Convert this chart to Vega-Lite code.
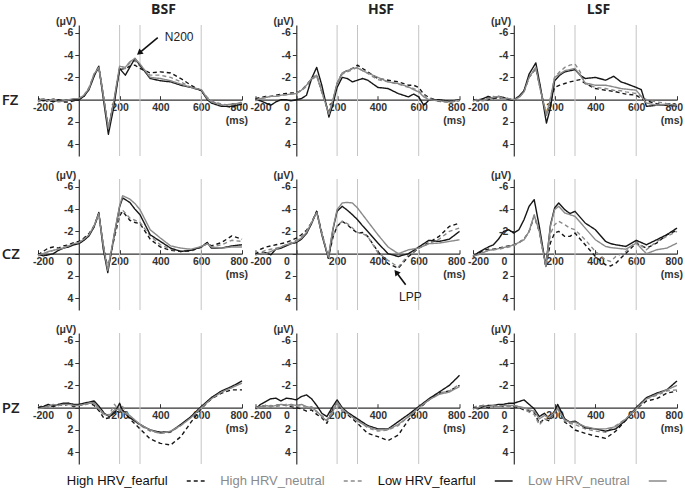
{
  "$schema": "https://vega.github.io/schema/vega-lite/v6.json",
  "padding": {"left": 1, "top": 2, "right": 2, "bottom": 2},
  "background": "white",
  "config": {
    "view": {"stroke": null},
    "font": "Liberation Sans",
    "axisX": {"offset": -56.3, "tickCount": 5, "labelExpr": "datum.value == 800 ? ['800', '(ms)'] : '' + datum.value",
      "ticks": true, "tickSize": -4, "tickColor": "#333", "labelPadding": 7, "grid": false, "domainColor": "#333", "domainWidth": 1.2,
      "labelFlush": true, "labelFlushOffset": 5.5, "labelOverlap": false, "labelBound": false, "labelFontSize": 10.5, "labelFontWeight": "bold", "labelColor": "#333"},
    "axisY": {"offset": -40.8, "tickCount": 6, "labelExpr": "datum.value == 0 ? '' : '' + datum.value", "ticks": true, "tickSize": 4, "tickColor": "#333",
      "labelPadding": 2, "grid": false, "domainColor": "#333", "domainWidth": 1.2, "labelOverlap": false, "labelBound": false,
      "labelFontSize": 10.5, "labelFontWeight": "bold", "labelColor": "#333"}
  },
  "data": {"values": [
{"e":"FZ","c":"BSF","t":-200,"HF":0.1,"HN":0.2,"LF":-0.1,"LN":0.1},
{"e":"FZ","c":"BSF","t":-175,"HF":-0.1,"HN":0.0,"LF":0.1,"LN":-0.1},
{"e":"FZ","c":"BSF","t":-150,"HF":0.2,"HN":0.1,"LF":0.0,"LN":0.1},
{"e":"FZ","c":"BSF","t":-125,"HF":0.0,"HN":-0.1,"LF":0.2,"LN":0.0},
{"e":"FZ","c":"BSF","t":-100,"HF":0.1,"HN":0.1,"LF":0.0,"LN":0.2},
{"e":"FZ","c":"BSF","t":-75,"HF":0.2,"HN":0.0,"LF":0.1,"LN":0.1},
{"e":"FZ","c":"BSF","t":-50,"HF":0.2,"HN":0.1,"LF":0.0,"LN":0.0},
{"e":"FZ","c":"BSF","t":-25,"HF":0.1,"HN":0.0,"LF":0.0,"LN":-0.1},
{"e":"FZ","c":"BSF","t":0,"HF":0.0,"HN":-0.1,"LF":0.0,"LN":-0.1},
{"e":"FZ","c":"BSF","t":25,"HF":-0.3,"HN":-0.4,"LF":-0.3,"LN":-0.4},
{"e":"FZ","c":"BSF","t":50,"HF":-1.0,"HN":-1.1,"LF":-0.9,"LN":-1.0},
{"e":"FZ","c":"BSF","t":75,"HF":-2.2,"HN":-2.3,"LF":-2.1,"LN":-2.3},
{"e":"FZ","c":"BSF","t":98,"HF":-2.9,"HN":-3.0,"LF":-3.0,"LN":-2.9},
{"e":"FZ","c":"BSF","t":120,"HF":-0.4,"HN":-0.5,"LF":-0.1,"LN":-0.4},
{"e":"FZ","c":"BSF","t":145,"HF":2.5,"HN":2.6,"LF":3.1,"LN":2.6},
{"e":"FZ","c":"BSF","t":170,"HF":0.3,"HN":0.4,"LF":0.8,"LN":0.3},
{"e":"FZ","c":"BSF","t":200,"HF":-2.7,"HN":-2.9,"LF":-2.8,"LN":-3.0},
{"e":"FZ","c":"BSF","t":228,"HF":-2.8,"HN":-2.8,"LF":-2.2,"LN":-2.9},
{"e":"FZ","c":"BSF","t":250,"HF":-3.0,"HN":-3.3,"LF":-2.9,"LN":-3.4},
{"e":"FZ","c":"BSF","t":275,"HF":-3.1,"HN":-3.5,"LF":-3.7,"LN":-3.7},
{"e":"FZ","c":"BSF","t":300,"HF":-2.8,"HN":-3.0,"LF":-3.1,"LN":-3.2},
{"e":"FZ","c":"BSF","t":325,"HF":-2.6,"HN":-2.6,"LF":-2.5,"LN":-2.6},
{"e":"FZ","c":"BSF","t":350,"HF":-2.4,"HN":-2.2,"LF":-1.9,"LN":-2.0},
{"e":"FZ","c":"BSF","t":400,"HF":-2.5,"HN":-2.2,"LF":-1.7,"LN":-1.9},
{"e":"FZ","c":"BSF","t":450,"HF":-2.4,"HN":-2.0,"LF":-1.6,"LN":-1.7},
{"e":"FZ","c":"BSF","t":500,"HF":-1.9,"HN":-1.6,"LF":-1.3,"LN":-1.4},
{"e":"FZ","c":"BSF","t":550,"HF":-1.3,"HN":-1.1,"LF":-1.1,"LN":-1.1},
{"e":"FZ","c":"BSF","t":600,"HF":-0.8,"HN":-0.9,"LF":-0.85,"LN":-0.9},
{"e":"FZ","c":"BSF","t":630,"HF":-0.1,"HN":-0.2,"LF":0.0,"LN":-0.1},
{"e":"FZ","c":"BSF","t":650,"HF":0.2,"HN":0.1,"LF":0.3,"LN":0.2},
{"e":"FZ","c":"BSF","t":700,"HF":0.5,"HN":0.4,"LF":0.6,"LN":0.5},
{"e":"FZ","c":"BSF","t":750,"HF":0.7,"HN":0.5,"LF":0.6,"LN":0.4},
{"e":"FZ","c":"BSF","t":800,"HF":0.3,"HN":0.2,"LF":0.4,"LN":0.3},

{"e":"FZ","c":"HSF","t":-200,"HF":-0.1,"HN":0.0,"LF":0.0,"LN":0.1},
{"e":"FZ","c":"HSF","t":-175,"HF":-0.2,"HN":-0.1,"LF":0.1,"LN":-0.1},
{"e":"FZ","c":"HSF","t":-150,"HF":-0.3,"HN":-0.2,"LF":0.3,"LN":-0.2},
{"e":"FZ","c":"HSF","t":-125,"HF":-0.3,"HN":-0.3,"LF":0.5,"LN":-0.3},
{"e":"FZ","c":"HSF","t":-100,"HF":-0.4,"HN":-0.3,"LF":0.2,"LN":-0.3},
{"e":"FZ","c":"HSF","t":-75,"HF":-0.5,"HN":-0.4,"LF":0.0,"LN":-0.4},
{"e":"FZ","c":"HSF","t":-50,"HF":-0.55,"HN":-0.45,"LF":0.0,"LN":-0.45},
{"e":"FZ","c":"HSF","t":-25,"HF":-0.6,"HN":-0.5,"LF":0.1,"LN":-0.5},
{"e":"FZ","c":"HSF","t":0,"HF":-0.6,"HN":-0.6,"LF":0.0,"LN":-0.55},
{"e":"FZ","c":"HSF","t":25,"HF":-0.85,"HN":-0.8,"LF":-0.1,"LN":-0.85},
{"e":"FZ","c":"HSF","t":50,"HF":-1.3,"HN":-1.2,"LF":-0.4,"LN":-1.3},
{"e":"FZ","c":"HSF","t":75,"HF":-1.9,"HN":-1.8,"LF":-1.9,"LN":-1.9},
{"e":"FZ","c":"HSF","t":100,"HF":-2.2,"HN":-2.1,"LF":-2.9,"LN":-2.2},
{"e":"FZ","c":"HSF","t":125,"HF":-0.7,"HN":-0.8,"LF":-1.3,"LN":-0.7},
{"e":"FZ","c":"HSF","t":160,"HF":1.25,"HN":1.2,"LF":1.55,"LN":1.3},
{"e":"FZ","c":"HSF","t":180,"HF":0.1,"HN":0.0,"LF":0.35,"LN":0.0},
{"e":"FZ","c":"HSF","t":200,"HF":-1.45,"HN":-1.4,"LF":-1.1,"LN":-1.5},
{"e":"FZ","c":"HSF","t":225,"HF":-2.4,"HN":-2.3,"LF":-2.0,"LN":-2.4},
{"e":"FZ","c":"HSF","t":250,"HF":-2.6,"HN":-2.5,"LF":-1.9,"LN":-2.6},
{"e":"FZ","c":"HSF","t":275,"HF":-2.8,"HN":-2.7,"LF":-1.6,"LN":-2.8},
{"e":"FZ","c":"HSF","t":300,"HF":-3.1,"HN":-2.9,"LF":-1.75,"LN":-2.85},
{"e":"FZ","c":"HSF","t":325,"HF":-2.8,"HN":-2.6,"LF":-1.9,"LN":-2.6},
{"e":"FZ","c":"HSF","t":350,"HF":-2.5,"HN":-2.35,"LF":-1.75,"LN":-2.4},
{"e":"FZ","c":"HSF","t":400,"HF":-1.9,"HN":-1.8,"LF":-1.1,"LN":-2.0},
{"e":"FZ","c":"HSF","t":450,"HF":-1.75,"HN":-1.6,"LF":-1.0,"LN":-1.6},
{"e":"FZ","c":"HSF","t":500,"HF":-1.6,"HN":-1.4,"LF":-0.55,"LN":-1.45},
{"e":"FZ","c":"HSF","t":550,"HF":-1.3,"HN":-1.1,"LF":-0.25,"LN":-1.15},
{"e":"FZ","c":"HSF","t":575,"HF":-1.3,"HN":-1.0,"LF":-0.5,"LN":-0.9},
{"e":"FZ","c":"HSF","t":600,"HF":-1.1,"HN":-0.8,"LF":-0.25,"LN":-0.7},
{"e":"FZ","c":"HSF","t":625,"HF":-0.5,"HN":-0.4,"LF":0.5,"LN":-0.25},
{"e":"FZ","c":"HSF","t":650,"HF":-0.2,"HN":-0.1,"LF":0.05,"LN":0.0},
{"e":"FZ","c":"HSF","t":700,"HF":0.15,"HN":0.1,"LF":0.0,"LN":0.1},
{"e":"FZ","c":"HSF","t":750,"HF":0.2,"HN":0.25,"LF":0.15,"LN":0.2},
{"e":"FZ","c":"HSF","t":800,"HF":0.05,"HN":0.1,"LF":0.0,"LN":0.05},

{"e":"FZ","c":"LSF","t":-200,"HF":0.0,"HN":0.1,"LF":0.0,"LN":0.1},
{"e":"FZ","c":"LSF","t":-175,"HF":0.1,"HN":-0.1,"LF":0.1,"LN":0.0},
{"e":"FZ","c":"LSF","t":-150,"HF":-0.1,"HN":0.0,"LF":-0.1,"LN":0.1},
{"e":"FZ","c":"LSF","t":-125,"HF":0.0,"HN":-0.2,"LF":-0.3,"LN":-0.1},
{"e":"FZ","c":"LSF","t":-100,"HF":-0.2,"HN":-0.3,"LF":-0.1,"LN":-0.2},
{"e":"FZ","c":"LSF","t":-75,"HF":-0.1,"HN":-0.2,"LF":-0.3,"LN":-0.3},
{"e":"FZ","c":"LSF","t":-50,"HF":-0.2,"HN":-0.1,"LF":-0.2,"LN":-0.1},
{"e":"FZ","c":"LSF","t":-25,"HF":-0.1,"HN":0.0,"LF":0.0,"LN":-0.1},
{"e":"FZ","c":"LSF","t":0,"HF":0.0,"HN":0.0,"LF":0.0,"LN":0.0},
{"e":"FZ","c":"LSF","t":25,"HF":-0.2,"HN":-0.2,"LF":-0.3,"LN":-0.2},
{"e":"FZ","c":"LSF","t":50,"HF":-0.8,"HN":-0.7,"LF":-0.8,"LN":-0.7},
{"e":"FZ","c":"LSF","t":75,"HF":-2.0,"HN":-2.0,"LF":-2.3,"LN":-2.0},
{"e":"FZ","c":"LSF","t":108,"HF":-2.8,"HN":-2.9,"LF":-3.3,"LN":-2.9},
{"e":"FZ","c":"LSF","t":130,"HF":-1.0,"HN":-1.0,"LF":-1.2,"LN":-0.9},
{"e":"FZ","c":"LSF","t":160,"HF":1.4,"HN":1.4,"LF":2.1,"LN":1.4},
{"e":"FZ","c":"LSF","t":180,"HF":0.2,"HN":-0.2,"LF":0.7,"LN":-0.1},
{"e":"FZ","c":"LSF","t":200,"HF":-1.1,"HN":-2.0,"LF":-1.7,"LN":-2.0},
{"e":"FZ","c":"LSF","t":225,"HF":-1.3,"HN":-2.5,"LF":-2.2,"LN":-2.3},
{"e":"FZ","c":"LSF","t":250,"HF":-1.45,"HN":-2.9,"LF":-2.5,"LN":-2.6},
{"e":"FZ","c":"LSF","t":275,"HF":-1.6,"HN":-3.1,"LF":-2.6,"LN":-2.7},
{"e":"FZ","c":"LSF","t":300,"HF":-1.7,"HN":-3.2,"LF":-2.7,"LN":-2.8},
{"e":"FZ","c":"LSF","t":325,"HF":-1.8,"HN":-2.5,"LF":-2.2,"LN":-2.2},
{"e":"FZ","c":"LSF","t":350,"HF":-1.45,"HN":-1.45,"LF":-1.9,"LN":-1.5},
{"e":"FZ","c":"LSF","t":400,"HF":-1.0,"HN":-1.1,"LF":-2.0,"LN":-1.3},
{"e":"FZ","c":"LSF","t":450,"HF":-0.85,"HN":-1.0,"LF":-1.75,"LN":-1.3},
{"e":"FZ","c":"LSF","t":490,"HF":-0.75,"HN":-0.85,"LF":-2.1,"LN":-1.15},
{"e":"FZ","c":"LSF","t":525,"HF":-0.6,"HN":-0.8,"LF":-1.6,"LN":-1.0},
{"e":"FZ","c":"LSF","t":550,"HF":-0.5,"HN":-0.7,"LF":-1.45,"LN":-0.95},
{"e":"FZ","c":"LSF","t":600,"HF":-0.4,"HN":-0.55,"LF":-1.1,"LN":-0.85},
{"e":"FZ","c":"LSF","t":625,"HF":-0.1,"HN":-0.3,"LF":-0.9,"LN":-0.3},
{"e":"FZ","c":"LSF","t":650,"HF":0.1,"HN":0.0,"LF":0.6,"LN":0.3},
{"e":"FZ","c":"LSF","t":700,"HF":0.35,"HN":0.2,"LF":0.5,"LN":0.5},
{"e":"FZ","c":"LSF","t":750,"HF":0.5,"HN":0.35,"LF":0.45,"LN":0.4},
{"e":"FZ","c":"LSF","t":800,"HF":0.6,"HN":0.65,"LF":0.55,"LN":0.5},

{"e":"CZ","c":"BSF","t":-200,"HF":0.1,"HN":0.2,"LF":0.0,"LN":0.1},
{"e":"CZ","c":"BSF","t":-175,"HF":-0.2,"HN":0.1,"LF":0.2,"LN":0.0},
{"e":"CZ","c":"BSF","t":-150,"HF":-0.5,"HN":-0.1,"LF":0.1,"LN":-0.2},
{"e":"CZ","c":"BSF","t":-125,"HF":-0.6,"HN":-0.3,"LF":0.0,"LN":-0.3},
{"e":"CZ","c":"BSF","t":-100,"HF":-0.5,"HN":-0.4,"LF":-0.3,"LN":-0.4},
{"e":"CZ","c":"BSF","t":-75,"HF":-0.7,"HN":-0.6,"LF":-0.5,"LN":-0.5},
{"e":"CZ","c":"BSF","t":-50,"HF":-0.8,"HN":-0.7,"LF":-0.6,"LN":-0.7},
{"e":"CZ","c":"BSF","t":-25,"HF":-1.0,"HN":-0.8,"LF":-0.8,"LN":-0.9},
{"e":"CZ","c":"BSF","t":0,"HF":-1.1,"HN":-0.9,"LF":-0.9,"LN":-1.0},
{"e":"CZ","c":"BSF","t":25,"HF":-1.4,"HN":-1.2,"LF":-1.2,"LN":-1.3},
{"e":"CZ","c":"BSF","t":50,"HF":-1.8,"HN":-1.7,"LF":-1.6,"LN":-1.7},
{"e":"CZ","c":"BSF","t":75,"HF":-2.5,"HN":-2.4,"LF":-2.4,"LN":-2.5},
{"e":"CZ","c":"BSF","t":98,"HF":-3.6,"HN":-3.5,"LF":-3.7,"LN":-3.6},
{"e":"CZ","c":"BSF","t":120,"HF":-0.8,"HN":-0.6,"LF":-0.4,"LN":-0.7},
{"e":"CZ","c":"BSF","t":142,"HF":1.3,"HN":1.4,"LF":1.7,"LN":1.5},
{"e":"CZ","c":"BSF","t":175,"HF":-1.5,"HN":-1.6,"LF":-1.8,"LN":-1.9},
{"e":"CZ","c":"BSF","t":200,"HF":-3.4,"HN":-3.6,"LF":-4.2,"LN":-4.3},
{"e":"CZ","c":"BSF","t":215,"HF":-3.8,"HN":-3.9,"LF":-5.0,"LN":-5.2},
{"e":"CZ","c":"BSF","t":250,"HF":-3.0,"HN":-3.2,"LF":-4.6,"LN":-4.9},
{"e":"CZ","c":"BSF","t":275,"HF":-2.8,"HN":-3.0,"LF":-4.0,"LN":-4.5},
{"e":"CZ","c":"BSF","t":300,"HF":-2.7,"HN":-2.8,"LF":-3.5,"LN":-3.95},
{"e":"CZ","c":"BSF","t":350,"HF":-1.3,"HN":-1.6,"LF":-1.7,"LN":-2.15},
{"e":"CZ","c":"BSF","t":400,"HF":-0.6,"HN":-0.8,"LF":-1.1,"LN":-1.4},
{"e":"CZ","c":"BSF","t":450,"HF":-0.3,"HN":-0.4,"LF":-0.5,"LN":-0.7},
{"e":"CZ","c":"BSF","t":500,"HF":-0.2,"HN":-0.25,"LF":-0.2,"LN":-0.5},
{"e":"CZ","c":"BSF","t":550,"HF":-0.25,"HN":-0.3,"LF":-0.3,"LN":-0.4},
{"e":"CZ","c":"BSF","t":600,"HF":-0.6,"HN":-0.55,"LF":-0.6,"LN":-0.65},
{"e":"CZ","c":"BSF","t":630,"HF":-1.0,"HN":-0.9,"LF":-1.0,"LN":-0.9},
{"e":"CZ","c":"BSF","t":650,"HF":-0.7,"HN":-0.6,"LF":-0.5,"LN":-0.6},
{"e":"CZ","c":"BSF","t":700,"HF":-1.0,"HN":-0.8,"LF":-0.5,"LN":-0.5},
{"e":"CZ","c":"BSF","t":750,"HF":-1.6,"HN":-1.2,"LF":-0.7,"LN":-0.6},
{"e":"CZ","c":"BSF","t":800,"HF":-1.3,"HN":-1.1,"LF":-0.8,"LN":-0.6},

{"e":"CZ","c":"HSF","t":-200,"HF":0.1,"HN":0.1,"LF":0.0,"LN":0.1},
{"e":"CZ","c":"HSF","t":-175,"HF":-0.4,"HN":-0.1,"LF":0.0,"LN":0.0},
{"e":"CZ","c":"HSF","t":-150,"HF":-0.6,"HN":-0.3,"LF":-0.1,"LN":0.0},
{"e":"CZ","c":"HSF","t":-125,"HF":-0.7,"HN":-0.4,"LF":0.1,"LN":-0.2},
{"e":"CZ","c":"HSF","t":-100,"HF":-0.8,"HN":-0.5,"LF":-0.4,"LN":-0.4},
{"e":"CZ","c":"HSF","t":-75,"HF":-0.9,"HN":-0.6,"LF":-0.5,"LN":-0.6},
{"e":"CZ","c":"HSF","t":-50,"HF":-1.0,"HN":-0.8,"LF":-0.7,"LN":-0.8},
{"e":"CZ","c":"HSF","t":-25,"HF":-1.2,"HN":-1.0,"LF":-0.9,"LN":-0.9},
{"e":"CZ","c":"HSF","t":0,"HF":-1.4,"HN":-1.2,"LF":-1.0,"LN":-1.1},
{"e":"CZ","c":"HSF","t":25,"HF":-1.7,"HN":-1.5,"LF":-1.3,"LN":-1.4},
{"e":"CZ","c":"HSF","t":50,"HF":-2.1,"HN":-2.0,"LF":-1.8,"LN":-1.9},
{"e":"CZ","c":"HSF","t":75,"HF":-2.8,"HN":-2.8,"LF":-2.7,"LN":-2.8},
{"e":"CZ","c":"HSF","t":100,"HF":-3.8,"HN":-3.7,"LF":-3.8,"LN":-3.7},
{"e":"CZ","c":"HSF","t":125,"HF":-1.9,"HN":-1.8,"LF":-1.7,"LN":-1.8},
{"e":"CZ","c":"HSF","t":157,"HF":0.4,"HN":0.3,"LF":0.4,"LN":0.3},
{"e":"CZ","c":"HSF","t":180,"HF":-1.5,"HN":-1.6,"LF":-2.2,"LN":-2.3},
{"e":"CZ","c":"HSF","t":200,"HF":-2.45,"HN":-2.5,"LF":-3.8,"LN":-3.95},
{"e":"CZ","c":"HSF","t":225,"HF":-2.9,"HN":-2.9,"LF":-4.25,"LN":-4.55},
{"e":"CZ","c":"HSF","t":250,"HF":-2.6,"HN":-2.7,"LF":-3.9,"LN":-4.6},
{"e":"CZ","c":"HSF","t":275,"HF":-2.2,"HN":-2.3,"LF":-3.5,"LN":-4.55},
{"e":"CZ","c":"HSF","t":300,"HF":-1.85,"HN":-1.9,"LF":-3.05,"LN":-4.1},
{"e":"CZ","c":"HSF","t":325,"HF":-1.9,"HN":-1.8,"LF":-2.5,"LN":-3.5},
{"e":"CZ","c":"HSF","t":350,"HF":-1.55,"HN":-1.55,"LF":-2.0,"LN":-2.9},
{"e":"CZ","c":"HSF","t":400,"HF":-0.2,"HN":-0.1,"LF":-0.95,"LN":-1.7},
{"e":"CZ","c":"HSF","t":450,"HF":0.9,"HN":0.6,"LF":0.0,"LN":-0.6},
{"e":"CZ","c":"HSF","t":500,"HF":1.3,"HN":1.2,"LF":0.25,"LN":0.0},
{"e":"CZ","c":"HSF","t":550,"HF":0.25,"HN":0.1,"LF":0.0,"LN":-0.35},
{"e":"CZ","c":"HSF","t":600,"HF":-0.5,"HN":-0.5,"LF":-0.6,"LN":-0.5},
{"e":"CZ","c":"HSF","t":650,"HF":-1.0,"HN":-0.9,"LF":-1.2,"LN":-0.9},
{"e":"CZ","c":"HSF","t":700,"HF":-1.55,"HN":-1.3,"LF":-1.1,"LN":-0.95},
{"e":"CZ","c":"HSF","t":750,"HF":-2.45,"HN":-2.0,"LF":-1.3,"LN":-1.1},
{"e":"CZ","c":"HSF","t":800,"HF":-2.75,"HN":-2.3,"LF":-2.0,"LN":-1.25},

{"e":"CZ","c":"LSF","t":-200,"HF":0.25,"HN":0.2,"LF":0.25,"LN":0.2},
{"e":"CZ","c":"LSF","t":-175,"HF":0.0,"HN":0.1,"LF":-0.1,"LN":0.1},
{"e":"CZ","c":"LSF","t":-150,"HF":-0.3,"HN":-0.1,"LF":-0.35,"LN":-0.1},
{"e":"CZ","c":"LSF","t":-125,"HF":-0.4,"HN":-0.3,"LF":-0.6,"LN":-0.3},
{"e":"CZ","c":"LSF","t":-100,"HF":-0.4,"HN":-0.35,"LF":-0.8,"LN":-0.35},
{"e":"CZ","c":"LSF","t":-75,"HF":-0.5,"HN":-0.4,"LF":-1.3,"LN":-0.45},
{"e":"CZ","c":"LSF","t":-50,"HF":-0.6,"HN":-0.5,"LF":-2.0,"LN":-0.55},
{"e":"CZ","c":"LSF","t":-25,"HF":-0.7,"HN":-0.6,"LF":-2.15,"LN":-0.65},
{"e":"CZ","c":"LSF","t":0,"HF":-0.8,"HN":-0.7,"LF":-1.85,"LN":-0.8},
{"e":"CZ","c":"LSF","t":25,"HF":-1.0,"HN":-1.0,"LF":-2.15,"LN":-1.0},
{"e":"CZ","c":"LSF","t":50,"HF":-1.3,"HN":-1.3,"LF":-3.05,"LN":-1.25},
{"e":"CZ","c":"LSF","t":75,"HF":-2.0,"HN":-2.0,"LF":-4.25,"LN":-2.0},
{"e":"CZ","c":"LSF","t":100,"HF":-3.35,"HN":-3.4,"LF":-4.85,"LN":-3.5},
{"e":"CZ","c":"LSF","t":125,"HF":-2.0,"HN":-2.0,"LF":-2.45,"LN":-2.0},
{"e":"CZ","c":"LSF","t":157,"HF":1.15,"HN":1.2,"LF":1.1,"LN":1.15},
{"e":"CZ","c":"LSF","t":180,"HF":-1.0,"HN":-1.8,"LF":-2.6,"LN":-2.5},
{"e":"CZ","c":"LSF","t":200,"HF":-1.85,"HN":-2.6,"LF":-4.1,"LN":-3.95},
{"e":"CZ","c":"LSF","t":220,"HF":-2.0,"HN":-2.9,"LF":-4.55,"LN":-4.25},
{"e":"CZ","c":"LSF","t":250,"HF":-1.55,"HN":-2.6,"LF":-3.95,"LN":-3.65},
{"e":"CZ","c":"LSF","t":275,"HF":-1.55,"HN":-2.3,"LF":-3.6,"LN":-3.5},
{"e":"CZ","c":"LSF","t":300,"HF":-1.85,"HN":-2.15,"LF":-3.8,"LN":-3.35},
{"e":"CZ","c":"LSF","t":350,"HF":-0.8,"HN":-1.25,"LF":-2.75,"LN":-2.3},
{"e":"CZ","c":"LSF","t":400,"HF":0.25,"HN":-0.2,"LF":-2.15,"LN":-1.25},
{"e":"CZ","c":"LSF","t":450,"HF":1.0,"HN":0.55,"LF":-1.1,"LN":-0.65},
{"e":"CZ","c":"LSF","t":475,"HF":1.1,"HN":0.7,"LF":-0.9,"LN":-0.55},
{"e":"CZ","c":"LSF","t":500,"HF":0.85,"HN":0.25,"LF":-0.8,"LN":-0.5},
{"e":"CZ","c":"LSF","t":550,"HF":-0.05,"HN":-0.2,"LF":-0.65,"LN":-0.4},
{"e":"CZ","c":"LSF","t":600,"HF":-0.95,"HN":-1.1,"LF":-1.2,"LN":-0.95},
{"e":"CZ","c":"LSF","t":650,"HF":-0.5,"HN":-0.35,"LF":-0.8,"LN":0.0},
{"e":"CZ","c":"LSF","t":700,"HF":-0.95,"HN":-1.1,"LF":-1.25,"LN":-0.35},
{"e":"CZ","c":"LSF","t":750,"HF":-1.7,"HN":-1.55,"LF":-1.7,"LN":-0.5},
{"e":"CZ","c":"LSF","t":800,"HF":-2.1,"HN":-2.0,"LF":-2.3,"LN":-0.95},

{"e":"PZ","c":"BSF","t":-200,"HF":0.0,"HN":-0.1,"LF":0.0,"LN":0.1},
{"e":"PZ","c":"BSF","t":-175,"HF":-0.2,"HN":0.0,"LF":-0.1,"LN":0.0},
{"e":"PZ","c":"BSF","t":-150,"HF":-0.1,"HN":-0.2,"LF":-0.3,"LN":-0.1},
{"e":"PZ","c":"BSF","t":-125,"HF":-0.2,"HN":-0.1,"LF":-0.1,"LN":-0.3},
{"e":"PZ","c":"BSF","t":-100,"HF":-0.3,"HN":-0.2,"LF":-0.3,"LN":-0.2},
{"e":"PZ","c":"BSF","t":-75,"HF":-0.2,"HN":-0.3,"LF":-0.4,"LN":-0.3},
{"e":"PZ","c":"BSF","t":-50,"HF":-0.3,"HN":-0.4,"LF":-0.4,"LN":-0.3},
{"e":"PZ","c":"BSF","t":-25,"HF":-0.1,"HN":-0.2,"LF":-0.3,"LN":-0.2},
{"e":"PZ","c":"BSF","t":0,"HF":-0.2,"HN":-0.3,"LF":-0.3,"LN":-0.2},
{"e":"PZ","c":"BSF","t":25,"HF":-0.3,"HN":-0.2,"LF":-0.4,"LN":-0.3},
{"e":"PZ","c":"BSF","t":50,"HF":-0.4,"HN":-0.4,"LF":-0.5,"LN":-0.4},
{"e":"PZ","c":"BSF","t":75,"HF":-0.2,"HN":-0.5,"LF":-0.6,"LN":-0.4},
{"e":"PZ","c":"BSF","t":100,"HF":0.3,"HN":0.2,"LF":-0.1,"LN":0.1},
{"e":"PZ","c":"BSF","t":125,"HF":1.0,"HN":0.7,"LF":0.5,"LN":0.6},
{"e":"PZ","c":"BSF","t":150,"HF":0.9,"HN":0.6,"LF":0.8,"LN":0.7},
{"e":"PZ","c":"BSF","t":175,"HF":0.3,"HN":-0.3,"LF":0.5,"LN":0.2},
{"e":"PZ","c":"BSF","t":200,"HF":0.4,"HN":0.3,"LF":-0.4,"LN":0.1},
{"e":"PZ","c":"BSF","t":215,"HF":0.2,"HN":-0.1,"LF":0.3,"LN":0.4},
{"e":"PZ","c":"BSF","t":250,"HF":1.0,"HN":0.8,"LF":0.9,"LN":0.7},
{"e":"PZ","c":"BSF","t":300,"HF":1.9,"HN":1.6,"LF":1.5,"LN":1.5},
{"e":"PZ","c":"BSF","t":350,"HF":2.8,"HN":2.1,"LF":2.0,"LN":2.0},
{"e":"PZ","c":"BSF","t":400,"HF":3.2,"HN":2.3,"LF":2.2,"LN":2.3},
{"e":"PZ","c":"BSF","t":450,"HF":3.35,"HN":2.2,"LF":2.15,"LN":2.1},
{"e":"PZ","c":"BSF","t":500,"HF":2.6,"HN":1.6,"LF":1.5,"LN":1.6},
{"e":"PZ","c":"BSF","t":550,"HF":1.3,"HN":0.8,"LF":0.8,"LN":0.9},
{"e":"PZ","c":"BSF","t":600,"HF":0.1,"HN":0.0,"LF":-0.1,"LN":0.0},
{"e":"PZ","c":"BSF","t":650,"HF":-0.8,"HN":-0.9,"LF":-0.9,"LN":-0.8},
{"e":"PZ","c":"BSF","t":700,"HF":-1.3,"HN":-1.5,"LF":-1.5,"LN":-1.4},
{"e":"PZ","c":"BSF","t":750,"HF":-1.6,"HN":-1.8,"LF":-1.9,"LN":-1.8},
{"e":"PZ","c":"BSF","t":800,"HF":-1.6,"HN":-2.3,"LF":-2.4,"LN":-2.2},

{"e":"PZ","c":"HSF","t":-200,"HF":0.0,"HN":0.1,"LF":0.1,"LN":0.0},
{"e":"PZ","c":"HSF","t":-175,"HF":-0.1,"HN":0.0,"LF":-0.3,"LN":-0.1},
{"e":"PZ","c":"HSF","t":-150,"HF":-0.2,"HN":-0.1,"LF":-0.55,"LN":-0.2},
{"e":"PZ","c":"HSF","t":-125,"HF":-0.1,"HN":-0.2,"LF":-0.8,"LN":-0.1},
{"e":"PZ","c":"HSF","t":-100,"HF":-0.2,"HN":-0.1,"LF":-0.85,"LN":-0.2},
{"e":"PZ","c":"HSF","t":-75,"HF":-0.3,"HN":-0.2,"LF":-0.6,"LN":-0.3},
{"e":"PZ","c":"HSF","t":-50,"HF":-0.2,"HN":-0.3,"LF":-0.85,"LN":-0.2},
{"e":"PZ","c":"HSF","t":-25,"HF":-0.1,"HN":-0.2,"LF":-0.8,"LN":-0.3},
{"e":"PZ","c":"HSF","t":0,"HF":0.0,"HN":-0.1,"LF":-0.7,"LN":-0.2},
{"e":"PZ","c":"HSF","t":25,"HF":0.1,"HN":-0.2,"LF":-1.0,"LN":-0.3},
{"e":"PZ","c":"HSF","t":50,"HF":0.3,"HN":0.0,"LF":-1.15,"LN":-0.1},
{"e":"PZ","c":"HSF","t":75,"HF":0.2,"HN":-0.1,"LF":-0.8,"LN":0.0},
{"e":"PZ","c":"HSF","t":100,"HF":0.6,"HN":0.4,"LF":-0.2,"LN":0.3},
{"e":"PZ","c":"HSF","t":125,"HF":0.9,"HN":0.7,"LF":0.5,"LN":0.8},
{"e":"PZ","c":"HSF","t":150,"HF":1.4,"HN":1.1,"LF":0.8,"LN":1.2},
{"e":"PZ","c":"HSF","t":175,"HF":0.3,"HN":0.4,"LF":0.0,"LN":0.5},
{"e":"PZ","c":"HSF","t":200,"HF":-0.5,"HN":-0.4,"LF":-0.7,"LN":-0.5},
{"e":"PZ","c":"HSF","t":225,"HF":0.3,"HN":0.3,"LF":0.0,"LN":0.1},
{"e":"PZ","c":"HSF","t":250,"HF":0.6,"HN":0.5,"LF":0.4,"LN":0.5},
{"e":"PZ","c":"HSF","t":300,"HF":1.4,"HN":1.1,"LF":1.0,"LN":1.2},
{"e":"PZ","c":"HSF","t":350,"HF":2.3,"HN":1.8,"LF":1.6,"LN":1.7},
{"e":"PZ","c":"HSF","t":400,"HF":2.6,"HN":2.1,"LF":1.9,"LN":2.0},
{"e":"PZ","c":"HSF","t":450,"HF":2.95,"HN":2.0,"LF":1.9,"LN":1.95},
{"e":"PZ","c":"HSF","t":500,"HF":2.45,"HN":1.6,"LF":1.25,"LN":1.5},
{"e":"PZ","c":"HSF","t":550,"HF":1.1,"HN":0.8,"LF":0.6,"LN":0.8},
{"e":"PZ","c":"HSF","t":600,"HF":0.1,"HN":0.0,"LF":-0.1,"LN":0.0},
{"e":"PZ","c":"HSF","t":650,"HF":-0.7,"HN":-0.7,"LF":-0.8,"LN":-0.7},
{"e":"PZ","c":"HSF","t":700,"HF":-1.3,"HN":-1.3,"LF":-1.4,"LN":-1.2},
{"e":"PZ","c":"HSF","t":750,"HF":-1.5,"HN":-1.5,"LF":-2.0,"LN":-1.4},
{"e":"PZ","c":"HSF","t":800,"HF":-2.0,"HN":-2.1,"LF":-2.9,"LN":-1.9},

{"e":"PZ","c":"LSF","t":-200,"HF":0.1,"HN":0.0,"LF":0.0,"LN":0.1},
{"e":"PZ","c":"LSF","t":-175,"HF":-0.1,"HN":-0.2,"LF":0.1,"LN":0.0},
{"e":"PZ","c":"LSF","t":-150,"HF":-0.2,"HN":-0.1,"LF":-0.1,"LN":-0.2},
{"e":"PZ","c":"LSF","t":-125,"HF":0.0,"HN":-0.2,"LF":-0.2,"LN":-0.1},
{"e":"PZ","c":"LSF","t":-100,"HF":-0.1,"HN":-0.1,"LF":-0.2,"LN":-0.2},
{"e":"PZ","c":"LSF","t":-75,"HF":-0.2,"HN":-0.2,"LF":-0.3,"LN":-0.1},
{"e":"PZ","c":"LSF","t":-50,"HF":-0.1,"HN":-0.2,"LF":-0.3,"LN":-0.2},
{"e":"PZ","c":"LSF","t":-25,"HF":-0.2,"HN":-0.1,"LF":-0.4,"LN":-0.2},
{"e":"PZ","c":"LSF","t":0,"HF":-0.1,"HN":-0.2,"LF":-0.4,"LN":-0.2},
{"e":"PZ","c":"LSF","t":25,"HF":0.0,"HN":-0.1,"LF":-0.55,"LN":-0.1},
{"e":"PZ","c":"LSF","t":50,"HF":0.2,"HN":0.1,"LF":-0.7,"LN":0.0},
{"e":"PZ","c":"LSF","t":75,"HF":0.3,"HN":0.4,"LF":-0.3,"LN":0.2},
{"e":"PZ","c":"LSF","t":100,"HF":0.4,"HN":0.6,"LF":0.1,"LN":0.3},
{"e":"PZ","c":"LSF","t":125,"HF":1.4,"HN":1.55,"LF":0.8,"LN":1.0},
{"e":"PZ","c":"LSF","t":150,"HF":1.0,"HN":1.0,"LF":0.5,"LN":0.7},
{"e":"PZ","c":"LSF","t":175,"HF":1.2,"HN":1.1,"LF":1.0,"LN":0.9},
{"e":"PZ","c":"LSF","t":200,"HF":0.6,"HN":0.5,"LF":0.3,"LN":0.4},
{"e":"PZ","c":"LSF","t":215,"HF":0.0,"HN":-0.1,"LF":-0.3,"LN":0.1},
{"e":"PZ","c":"LSF","t":250,"HF":1.3,"HN":1.2,"LF":1.0,"LN":1.1},
{"e":"PZ","c":"LSF","t":275,"HF":1.6,"HN":1.4,"LF":1.3,"LN":1.3},
{"e":"PZ","c":"LSF","t":300,"HF":2.0,"HN":1.5,"LF":1.2,"LN":1.3},
{"e":"PZ","c":"LSF","t":350,"HF":2.3,"HN":1.9,"LF":1.8,"LN":1.7},
{"e":"PZ","c":"LSF","t":400,"HF":2.55,"HN":2.1,"LF":1.9,"LN":1.9},
{"e":"PZ","c":"LSF","t":450,"HF":2.75,"HN":2.2,"LF":2.1,"LN":1.9},
{"e":"PZ","c":"LSF","t":500,"HF":2.1,"HN":1.6,"LF":1.9,"LN":1.7},
{"e":"PZ","c":"LSF","t":550,"HF":1.1,"HN":1.0,"LF":1.1,"LN":1.0},
{"e":"PZ","c":"LSF","t":600,"HF":0.1,"HN":0.0,"LF":0.0,"LN":0.1},
{"e":"PZ","c":"LSF","t":650,"HF":-0.6,"HN":-0.8,"LF":-0.9,"LN":-0.8},
{"e":"PZ","c":"LSF","t":700,"HF":-0.8,"HN":-1.1,"LF":-1.3,"LN":-1.2},
{"e":"PZ","c":"LSF","t":750,"HF":-1.3,"HN":-1.5,"LF":-1.6,"LN":-1.6},
{"e":"PZ","c":"LSF","t":800,"HF":-1.5,"HN":-1.6,"LF":-2.4,"LN":-2.0}
  ]},
  "facet": {
    "row": {"field": "e", "type": "nominal", "sort": ["FZ", "CZ", "PZ"], "header": null},
    "column": {"field": "c", "type": "nominal", "sort": ["BSF", "HSF", "LSF"], "header": null}
  },
  "spacing": {"row": 23, "column": 13.5},
  "bounds": "flush",
  "resolve": {"axis": {"x": "independent", "y": "independent"}},
  "spec": {
    "width": 204,
    "height": 131,
    "layer": [
      {
        "transform": [{"filter": "datum.t == 200 || datum.t == 300 || datum.t == 600"}],
        "mark": {"type": "rule", "color": "#c4c4c4", "strokeWidth": 1},
        "encoding": {
          "x": {"field": "t", "type": "quantitative", "title": null, "scale": {"domain": [-200, 800], "nice": false, "zero": false}}
        }
      },
      {
        "transform": [{"fold": ["HF", "HN", "LF", "LN"], "as": ["s", "v"]}],
        "mark": {"type": "line", "strokeJoin": "round"},
        "encoding": {
          "x": {"field": "t", "type": "quantitative", "title": null, "scale": {"domain": [-200, 800], "nice": false, "zero": false},
            "axis": {"labelOffset": {"condition": {"test": "datum.value == 0", "value": -10}, "value": 0}}},
          "y": {"field": "v", "type": "quantitative", "title": null, "scale": {"domain": [-6.7, 5.05], "reverse": true, "nice": false, "zero": false}},
          "color": {"field": "s", "type": "nominal",
            "scale": {"domain": ["HF", "HN", "LF", "LN"], "range": ["#161616", "#8a8a8a", "#161616", "#8a8a8a"]},
            "legend": {"orient": "none", "legendX": 31.7, "legendY": 446, "direction": "horizontal", "title": null, "symbolType": "stroke", "symbolSize": 320, "symbolStrokeWidth": 2,
              "labelFontSize": 13, "labelAlign": "right", "labelOffset": -38, "symbolOffset": 116, "columnPadding": 12,
              "labelExpr": "datum.value == 'HF' ? 'High HRV_fearful' : datum.value == 'HN' ? 'High HRV_neutral' : datum.value == 'LF' ? 'Low HRV_fearful' : 'Low HRV_neutral'",
              "encode": {"labels": {"update": {"fill": {"signal": "datum.value == 'HN' || datum.value == 'LN' ? '#8a8a8a' : '#111111'"}}}}}},
          "strokeDash": {"field": "s", "type": "nominal",
            "scale": {"domain": ["HF", "HN", "LF", "LN"], "range": [[4, 3], [4, 3], [1, 0], [1, 0]]},
            "legend": {"orient": "none", "legendX": 31.7, "legendY": 446, "direction": "horizontal", "title": null, "symbolType": "stroke", "symbolSize": 320, "symbolStrokeWidth": 2,
              "labelFontSize": 13, "labelAlign": "right", "labelOffset": -38, "symbolOffset": 116, "columnPadding": 12,
              "labelExpr": "datum.value == 'HF' ? 'High HRV_fearful' : datum.value == 'HN' ? 'High HRV_neutral' : datum.value == 'LF' ? 'Low HRV_fearful' : 'Low HRV_neutral'",
              "encode": {"labels": {"update": {"fill": {"signal": "datum.value == 'HN' || datum.value == 'LN' ? '#8a8a8a' : '#111111'"}}}}}},
          "strokeWidth": {"field": "s", "type": "nominal",
            "scale": {"domain": ["HF", "HN", "LF", "LN"], "range": [1.4, 1.4, 1.9, 1.6]}, "legend": null}
        }
      },
      {
        "transform": [{"filter": "datum.t == 0"}],
        "mark": {"type": "text", "text": "(μV)", "align": "right", "baseline": "middle", "fontSize": 10.5, "fontWeight": "bold", "color": "#333"},
        "encoding": {"x": {"datum": -12, "type": "quantitative"}, "y": {"datum": -6.95, "type": "quantitative"}}
      },
      {
        "transform": [{"filter": "datum.t == 0 && datum.e == 'FZ'"}],
        "mark": {"type": "text", "align": "center", "baseline": "middle", "font": "Open Sans", "fontSize": 14, "fontWeight": "bold", "color": "#222"},
        "encoding": {"text": {"field": "c"}, "x": {"datum": 415, "type": "quantitative"}, "y": {"datum": -8.07, "type": "quantitative"}}
      },
      {
        "transform": [{"filter": "datum.t == 0 && datum.c == 'BSF'"}],
        "mark": {"type": "text", "align": "left", "baseline": "middle", "font": "Open Sans", "fontSize": 15, "fontWeight": 600, "color": "#222"},
        "encoding": {"text": {"field": "e"}, "x": {"datum": -378, "type": "quantitative"}, "y": {"datum": 0, "type": "quantitative"}}
      },
      {
        "transform": [{"filter": "datum.t == 0 && datum.e == 'FZ' && datum.c == 'BSF'"}],
        "mark": {"type": "text", "text": "N200", "align": "center", "baseline": "middle", "fontSize": 12, "color": "#222"},
        "encoding": {"x": {"datum": 492, "type": "quantitative"}, "y": {"datum": -5.6, "type": "quantitative"}}
      },
      {
        "transform": [{"filter": "datum.t == 0 && datum.e == 'FZ' && datum.c == 'BSF'"}],
        "mark": {"type": "rule", "color": "#111", "strokeWidth": 1.6},
        "encoding": {"x": {"datum": 387, "type": "quantitative"}, "y": {"datum": -5.56, "type": "quantitative"},
          "x2": {"datum": 300}, "y2": {"datum": -4.25}}
      },
      {
        "transform": [{"filter": "datum.t == 0 && datum.e == 'FZ' && datum.c == 'BSF'"}],
        "mark": {"type": "point", "shape": "triangle", "filled": true, "color": "#111", "size": 45, "angle": 231, "opacity": 1},
        "encoding": {"x": {"datum": 300, "type": "quantitative"}, "y": {"datum": -4.25, "type": "quantitative"}}
      },
      {
        "transform": [{"filter": "datum.t == 0 && datum.e == 'CZ' && datum.c == 'HSF'"}],
        "mark": {"type": "text", "text": "LPP", "align": "center", "baseline": "middle", "fontSize": 12, "color": "#222"},
        "encoding": {"x": {"datum": 559, "type": "quantitative"}, "y": {"datum": 3.9, "type": "quantitative"}}
      },
      {
        "transform": [{"filter": "datum.t == 0 && datum.e == 'CZ' && datum.c == 'HSF'"}],
        "mark": {"type": "rule", "color": "#111", "strokeWidth": 1.6},
        "encoding": {"x": {"datum": 536, "type": "quantitative"}, "y": {"datum": 2.78, "type": "quantitative"},
          "x2": {"datum": 493}, "y2": {"datum": 1.73}}
      },
      {
        "transform": [{"filter": "datum.t == 0 && datum.e == 'CZ' && datum.c == 'HSF'"}],
        "mark": {"type": "point", "shape": "triangle", "filled": true, "color": "#111", "size": 45, "angle": 322, "opacity": 1},
        "encoding": {"x": {"datum": 493, "type": "quantitative"}, "y": {"datum": 1.73, "type": "quantitative"}}
      }
    ]
  }
}
